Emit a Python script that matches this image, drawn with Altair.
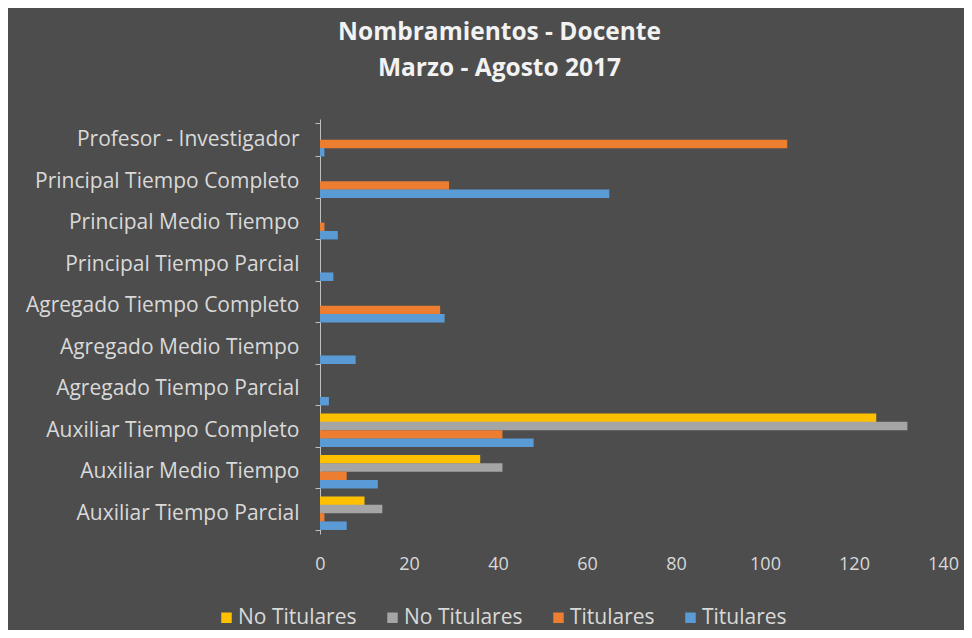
import altair as alt
import pandas as pd

categories = [
    "Profesor - Investigador",
    "Principal Tiempo Completo",
    "Principal Medio Tiempo",
    "Principal Tiempo Parcial",
    "Agregado Tiempo Completo",
    "Agregado Medio Tiempo",
    "Agregado Tiempo Parcial",
    "Auxiliar Tiempo Completo",
    "Auxiliar Medio Tiempo",
    "Auxiliar Tiempo Parcial",
]
no_titulares_a = [0, 0, 0, 0, 0, 0, 0, 125, 36, 10]   # yellow
no_titulares_b = [0, 0, 0, 0, 0, 0, 0, 132, 41, 14]   # gray
titulares_a = [105, 29, 1, 0, 27, 0, 0, 41, 6, 1]     # orange
titulares_b = [1, 65, 4, 3, 28, 8, 2, 48, 13, 6]      # blue

series_keys = ["S1", "S2", "S3", "S4"]
series_labels = ["No Titulares", "No Titulares", "Titulares", "Titulares"]
series_colors = ["#FFC000", "#A5A5A5", "#ED7D31", "#5B9BD5"]
x_ticks = [0, 20, 40, 60, 80, 100, 120, 140]

rows = []
for key, vals in zip(series_keys, [no_titulares_a, no_titulares_b, titulares_a, titulares_b]):
    for c, v in zip(categories, vals):
        rows.append({"categoria": c, "serie": key, "valor": v})
df = pd.DataFrame(rows)

label_map = ",".join(f"'{k}':'{l}'" for k, l in zip(series_keys, series_labels))
label_expr = "{" + label_map + "}[datum.label]"

FONT = "Open Sans"
TXT = "#d9d9d9"

chart = (
    alt.Chart(df)
    .mark_bar(size=8.5)
    .encode(
        y=alt.Y(
            "categoria:N",
            sort=categories,
            title=None,
            scale=alt.Scale(paddingInner=0.2, paddingOuter=0.1),
            axis=alt.Axis(
                domainColor="#bfbfbf",
                tickColor="#bfbfbf",
                tickBand="extent",
                tickSize=5,
                labelPadding=16,
                labelLimit=0,
                labelColor=TXT,
                labelFont=FONT,
                labelFontSize=21,
                grid=False,
            ),
        ),
        yOffset=alt.YOffset("serie:N", sort=series_keys),
        x=alt.X(
            "valor:Q",
            title=None,
            scale=alt.Scale(domain=[0, 140], nice=False),
            axis=alt.Axis(
                values=x_ticks,
                domain=False,
                ticks=False,
                grid=False,
                labelFlush=False,
                labelPadding=21,
                labelColor=TXT,
                labelFont=FONT,
                labelFontSize=18,
            ),
        ),
        color=alt.Color(
            "serie:N",
            scale=alt.Scale(domain=series_keys, range=series_colors),
            legend=alt.Legend(
                title=None,
                orient="none",
                direction="horizontal",
                legendX=-104,
                legendY=488,
                labelExpr=label_expr,
                labelLimit=0,
                symbolType="square",
                symbolSize=110,
                symbolStrokeWidth=0,
                labelColor=TXT,
                labelFont=FONT,
                labelFontSize=21,
                columnPadding=25,
                labelOffset=1,
            ),
        ),
    )
    .properties(
        width=623,
        height=415,
        autosize=alt.AutoSizeParams(type="none"),
        padding={"left": 312, "top": 111, "right": 21, "bottom": 96},
        background="#4d4d4d",
        title=alt.TitleParams(
            text=["Nombramientos - Docente", "Marzo - Agosto 2017"],
            color="#f2f2f2",
            font=FONT,
            fontSize=24.5,
            fontWeight="bold",
            lineHeight=36,
            anchor="middle",
            dx=-132,
            offset=27,
        ),
    )
    .configure_view(stroke=None)
)

chart.save("out.html", embed_options={"renderer": "svg", "actions": False})
